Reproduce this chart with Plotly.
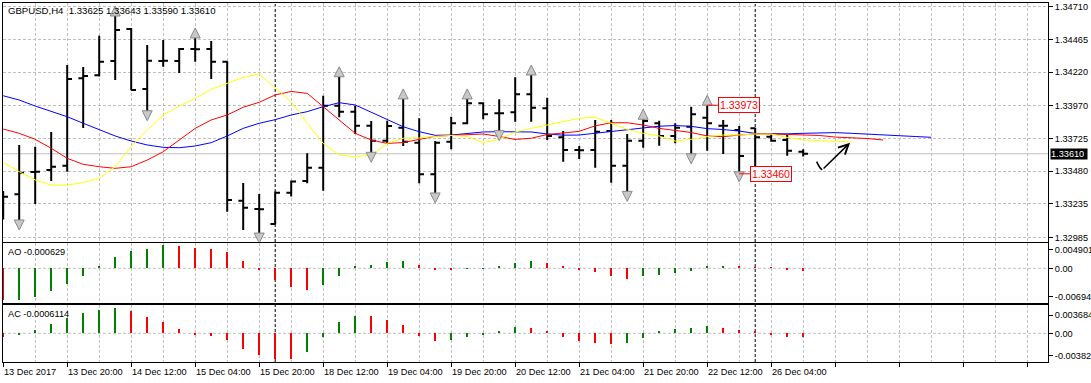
import plotly.graph_objects as go

# ---------------- data ----------------
time_labels = ["13 Dec 2017", "13 Dec 20:00", "14 Dec 12:00", "15 Dec 04:00", "15 Dec 20:00",
               "18 Dec 12:00", "19 Dec 04:00", "19 Dec 20:00", "20 Dec 12:00", "21 Dec 04:00",
               "21 Dec 20:00", "22 Dec 12:00", "26 Dec 04:00"]
label_bars = [0, 4, 8, 12, 16, 20, 24, 28, 32, 36, 40, 44, 48]

opens = [1.33309, 1.33307, 1.33474, 1.33489, 1.33521, 1.34174, 1.34197, 1.34304, 1.34543, 1.34094,
         1.34304, 1.34304, 1.34394, 1.34393, 1.34299, 1.33259, 1.33197, 1.33085, 1.33319, 1.33406,
         1.33506, 1.33970, 1.33925, 1.33820, 1.33708, 1.33805, 1.33693, 1.33456, 1.33700, 1.33838,
         1.33987, 1.33913, 1.33920, 1.34055, 1.33950, 1.33733, 1.33638, 1.33638, 1.33780, 1.33521,
         1.33708, 1.33838, 1.33743, 1.33812, 1.33880, 1.33820, 1.33788, 1.33800, 1.33738, 1.33713,
         1.33625]
highs = [1.33331, 1.33676, 1.33663, 1.33773, 1.34274, 1.34259, 1.34493, 1.34640, 1.34551, 1.34424,
         1.34461, 1.34401, 1.34476, 1.34453, 1.34302, 1.33391, 1.33309, 1.33328, 1.33410, 1.33613,
         1.34044, 1.34186, 1.33970, 1.33855, 1.33857, 1.34020, 1.33875, 1.33705, 1.33887, 1.34020,
         1.33995, 1.34017, 1.34182, 1.34199, 1.34029, 1.33780, 1.33668, 1.33863, 1.33863, 1.33758,
         1.33868, 1.33857, 1.33838, 1.33962, 1.33973, 1.33863, 1.33818, 1.33805, 1.33750, 1.33750,
         1.33643]
lows = [1.33118, 1.33100, 1.33234, 1.33406, 1.33476, 1.33803, 1.34188, 1.34162, 1.34085, 1.33917,
        1.34261, 1.34214, 1.34299, 1.34169, 1.33177, 1.33040, 1.33002, 1.33082, 1.33290, 1.33389,
        1.33334, 1.33883, 1.33758, 1.33606, 1.33688, 1.33668, 1.33389, 1.33302, 1.33643, 1.33830,
        1.33868, 1.33768, 1.33850, 1.33850, 1.33713, 1.33551, 1.33571, 1.33506, 1.33394, 1.33314,
        1.33655, 1.33670, 1.33688, 1.33595, 1.33633, 1.33608, 1.33460, 1.33501, 1.33700, 1.33595,
        1.33590]
closes = [1.33289, 1.33468, 1.33476, 1.33513, 1.34169, 1.34192, 1.34299, 1.34536, 1.34087, 1.34306,
          1.34305, 1.34394, 1.34392, 1.34299, 1.33264, 1.33207, 1.33195, 1.33319, 1.33403, 1.33506,
          1.33970, 1.33925, 1.33820, 1.33708, 1.33818, 1.33700, 1.33456, 1.33693, 1.33838, 1.33987,
          1.33905, 1.33913, 1.34055, 1.33955, 1.33743, 1.33638, 1.33637, 1.33775, 1.33521, 1.33708,
          1.33855, 1.33743, 1.33805, 1.33905, 1.33838, 1.33820, 1.33593, 1.33733, 1.33708, 1.33633,
          1.33610]

# Alligator lines (jaw = blue, teeth = red, lips = yellow), shifted past the last bar
jaw = [1.34044, 1.34012, 1.33967, 1.33925, 1.33887, 1.33838, 1.33788, 1.33743, 1.33705, 1.33676,
       1.33658, 1.33655, 1.33668, 1.33693, 1.33743, 1.33800, 1.33838, 1.33865, 1.33900, 1.33925,
       1.33962, 1.33992, 1.33975, 1.33922, 1.33866, 1.33812, 1.33775, 1.33748, 1.33750, 1.33762,
       1.33773, 1.33775, 1.33776, 1.33773, 1.33758, 1.33749, 1.33750, 1.33762, 1.33775, 1.33788,
       1.33803, 1.33816, 1.33821, 1.33815, 1.33798, 1.33791, 1.33780, 1.33762, 1.33758, 1.33759,
       1.33763, 1.33768, 1.33768, 1.33763, 1.33758, 1.33754, 1.33747, 1.33739, 1.33733]
teeth = [1.33795, 1.33763, 1.33718, 1.33651, 1.33576, 1.33531, 1.33513, 1.33501, 1.33513, 1.33563,
         1.33625, 1.33713, 1.33800, 1.33863, 1.33900, 1.33958, 1.33995, 1.34050, 1.34076, 1.34062,
         1.33962, 1.33863, 1.33763, 1.33713, 1.33687, 1.33694, 1.33720, 1.33741, 1.33747, 1.33750,
         1.33758, 1.33739, 1.33717, 1.33726, 1.33754, 1.33765, 1.33778, 1.33819, 1.33842, 1.33842,
         1.33825, 1.33800, 1.33784, 1.33769, 1.33743, 1.33738, 1.33750, 1.33758, 1.33758, 1.33754,
         1.33750, 1.33747, 1.33735, 1.33732, 1.33724, 1.33713]
lips = [1.33546, 1.33476, 1.33414, 1.33376, 1.33376, 1.33394, 1.33426, 1.33513, 1.33663, 1.33788,
        1.33900, 1.33967, 1.34025, 1.34092, 1.34137, 1.34182, 1.34207, 1.34106, 1.33999, 1.33838,
        1.33688, 1.33601, 1.33588, 1.33601, 1.33688, 1.33726, 1.33728, 1.33739, 1.33747, 1.33739,
        1.33694, 1.33717, 1.33773, 1.33800, 1.33825, 1.33850, 1.33875, 1.33883, 1.33838, 1.33793,
        1.33763, 1.33743, 1.33705, 1.33718, 1.33738, 1.33750, 1.33750, 1.33758, 1.33758, 1.33732,
        1.33713, 1.33708, 1.33703, 1.33698]

ao = [-0.006942, -0.00681, -0.00624, -0.00487, -0.00337, -0.00165, 0.00050, 0.00237, 0.00372, 0.00416,
      0.004901, 0.00466, 0.00437, 0.00416, 0.00351, 0.00158, -0.00050, -0.00250, -0.00416, -0.00466,
      -0.00358, -0.00179, 0.00036, 0.00072, 0.00136, 0.00158, 0.00072, -0.00036, -0.00040, -0.00014,
      -0.00010, 0.00050, 0.00115, 0.00158, 0.00115, 0.00050, -0.00036, -0.00093, -0.00179, -0.00230,
      -0.00179, -0.00143, -0.00108, -0.00057, 0.00036, 0.00045, 0.00040, 0.00015, 0.00005, -0.00035,
      -0.000629]
ac = [-0.00064, -0.00025, 0.00049, 0.00138, 0.00222, 0.00300, 0.00345, 0.003684, 0.00330, 0.00241,
      0.00167, 0.00064, -0.00025, -0.00040, -0.00099, -0.00232, -0.00321, -0.00378, -0.003827, -0.00277,
      -0.00055, 0.00167, 0.00259, 0.00256, 0.00197, 0.00123, -0.00040, -0.00114, -0.00099, -0.00055,
      -0.00025, 0.00034, 0.00093, 0.00078, 0.00034, -0.00055, -0.00114, -0.00144, -0.00158, -0.00155,
      -0.00070, 0.00015, 0.00064, 0.00078, 0.00108, 0.00078, 0.00049, 0.00015, -0.00025, -0.00055,
      -0.0006114]

fractal_up = [7, 12, 21, 25, 29, 33, 40, 44]
fractal_down = [1, 9, 16, 23, 27, 31, 39, 43, 46]
week_starts = [17, 47]
price_ticks = [1.34710, 1.34465, 1.34220, 1.33970, 1.33725, 1.33480, 1.33235, 1.32985]
ao_tick_text = ["0.004901", "0.00", "-0.006942"]
ac_tick_text = ["0.0036845", "0.00", "-0.003827"]
marked_high_bar, marked_high = 44, 1.33973
marked_low_bar, marked_low = 46, 1.33460
symbol_name = "GBPUSD,H4"
ao_label = "AO -0.000629"
ac_label = "AC -0.0006114"
# hand drawn arrow (bar index, price)
drawing_x = [50.84, 51.02, 51.18, 52.93]
drawing_y = [1.33551, 1.33511, 1.33489, 1.33693]

# ---------------- geometry / style ----------------
W, H = 1091, 383
ML, MR, MT, MB = 3, 43, 3, 21
PLOT_H = H - MT - MB
PX_PER_BAR = 16.0
X0 = -0.0125
X1 = X0 + (W - ML - MR) / PX_PER_BAR
FONT = "Liberation Sans, Arial, sans-serif"
FS = 9.2
GRID = "#C0C0C0"
GRID_DASH = "3px,2px"
GREEN = "#008000"
RED = "#FF0000"


def paper_y(px):
    return (H - MB - px) / PLOT_H


n = len(closes)
bars = list(range(n))

fig = go.Figure()

fig.add_trace(go.Ohlc(
    x=bars, open=opens, high=highs, low=lows, close=closes,
    increasing=dict(line=dict(color="black", width=2)),
    decreasing=dict(line=dict(color="black", width=2)),
    tickwidth=0.3, xaxis="x", yaxis="y", hoverinfo="skip", showlegend=False))

for vals, col in [(jaw, "#0000FF"), (teeth, "#FF0000"), (lips, "#FFFF00")]:
    fig.add_trace(go.Scatter(x=list(range(len(vals))), y=vals, mode="lines",
                             line=dict(color=col, width=1), xaxis="x", yaxis="y",
                             hoverinfo="skip", showlegend=False))

UP_OFF = 0.00075
DN_OFF = 0.00060
fig.add_trace(go.Scatter(
    x=fractal_up, y=[highs[i] + UP_OFF for i in fractal_up], mode="markers",
    marker=dict(symbol="arrow-up", size=10, color="#C8C8C8", line=dict(color="#8A8A8A", width=1)),
    xaxis="x", yaxis="y", hoverinfo="skip", showlegend=False))
fig.add_trace(go.Scatter(
    x=fractal_down, y=[lows[i] - DN_OFF for i in fractal_down], mode="markers",
    marker=dict(symbol="arrow-down", size=10, color="#C8C8C8", line=dict(color="#8A8A8A", width=1)),
    xaxis="x", yaxis="y", hoverinfo="skip", showlegend=False))

# hand drawn curve (tail part)
fig.add_trace(go.Scatter(x=drawing_x[:3], y=drawing_y[:3], mode="lines",
                         line=dict(color="black", width=1.5, shape="spline"),
                         xaxis="x", yaxis="y", hoverinfo="skip", showlegend=False))


def osc_colors(v):
    return [RED] + [GREEN if v[i] > v[i - 1] else RED for i in range(1, len(v))]


fig.add_trace(go.Bar(x=bars, y=ao, width=0.13, marker=dict(color=osc_colors(ao), line=dict(width=0)),
                     xaxis="x2", yaxis="y2", hoverinfo="skip", showlegend=False))
fig.add_trace(go.Bar(x=bars, y=ac, width=0.13, marker=dict(color=osc_colors(ac), line=dict(width=0)),
                     xaxis="x3", yaxis="y3", hoverinfo="skip", showlegend=False))

# ---------------- axes ----------------
main_dom = [paper_y(241.7), 1.0]
ao_dom = [paper_y(302.7), paper_y(243.3)]
ac_dom = [0.0, paper_y(305.3)]

S_MAIN = 0.0000748
p_top = 1.34710 + (6.7 - MT) * S_MAIN
p_bot = 1.34710 - (241.7 - 6.7) * S_MAIN
S_AO = 0.000215
S_AC = 0.000148

xcommon = dict(range=[X0, X1], tickmode="linear", tick0=0, dtick=4,
               showgrid=True, gridcolor=GRID, griddash=GRID_DASH, gridwidth=1,
               minor=dict(tickmode="linear", tick0=0, dtick=2, showgrid=True,
                          gridcolor=GRID, griddash=GRID_DASH, gridwidth=1),
               showticklabels=False, zeroline=False, showline=True, linecolor="black",
               linewidth=1, mirror=True, fixedrange=True, automargin=False)
ycommon = dict(side="right", ticks="outside", ticklen=4, tickcolor="black",
               tickfont=dict(family=FONT, size=FS, color="black"),
               showline=True, linecolor="black", linewidth=1, mirror=True,
               zeroline=False, fixedrange=True, automargin=False)

fig.update_layout(
    width=W, height=H, template="none",
    margin=dict(l=ML, r=MR, t=MT, b=MB, pad=0, autoexpand=False),
    paper_bgcolor="white", plot_bgcolor="white", showlegend=False,
    bargap=0,
    xaxis=dict(**xcommon, anchor="y", rangeslider=dict(visible=False), ticks=""),
    xaxis2=dict(**xcommon, anchor="y2", matches="x", ticks=""),
    xaxis3=dict(**xcommon, anchor="y3", matches="x", ticks="outside", ticklen=4, tickcolor="black"),
    yaxis=dict(**ycommon, domain=main_dom, range=[p_bot, p_top], tickvals=price_ticks,
               ticktext=[f"{v:.5f}" for v in price_ticks], showgrid=True, gridcolor=GRID,
               griddash=GRID_DASH, gridwidth=1),
    yaxis2=dict(**ycommon, domain=ao_dom, range=[-(302.7 - 268.3) * S_AO, (268.3 - 243.3) * S_AO],
                tickvals=[(268.3 - 249.3) * S_AO, 0, -(296.7 - 268.3) * S_AO],
                ticktext=ao_tick_text, showgrid=False),
    yaxis3=dict(**ycommon, domain=ac_dom, range=[-(362 - 333.3) * S_AC, (333.3 - 305.3) * S_AC],
                tickvals=[(333.3 - 315) * S_AC, 0, -(355.7 - 333.3) * S_AC],
                ticktext=ac_tick_text, showgrid=False),
)

shapes = []
for yr in ["y2", "y3"]:
    shapes.append(dict(type="line", xref="x domain", yref=yr, x0=0, x1=1, y0=0, y1=0,
                       line=dict(color=GRID, width=1, dash=GRID_DASH), layer="below"))
shapes.append(dict(type="line", xref="x domain", yref="y", x0=0, x1=1, y0=closes[-1], y1=closes[-1],
                   line=dict(color=GRID, width=1), layer="below"))
for b in week_starts:
    shapes.append(dict(type="line", xref="x", yref="paper", x0=b, x1=b, y0=0, y1=1,
                       line=dict(color="black", width=1, dash="3px,2px"), layer="below"))
fig.update_layout(shapes=shapes)

txt = dict(family=FONT, size=FS, color="black")
ann = []
ann.append(dict(xref="paper", yref="paper", x=0, y=paper_y(10), xanchor="left", yanchor="middle",
                xshift=3, showarrow=False, font=dict(family=FONT, size=9.6, color="black"),
                text=f"{symbol_name}\u00a0\u00a0{opens[-1]:.5f} {highs[-1]:.5f} {lows[-1]:.5f} {closes[-1]:.5f}"))
ann.append(dict(xref="paper", yref="paper", x=0, y=paper_y(251.7), xanchor="left", yanchor="middle",
                xshift=3, showarrow=False, font=txt, text=ao_label))
ann.append(dict(xref="paper", yref="paper", x=0, y=paper_y(314), xanchor="left", yanchor="middle",
                xshift=3, showarrow=False, font=txt, text=ac_label))
for b, t in zip(label_bars, time_labels):
    ann.append(dict(xref="x3", yref="paper", x=b, y=paper_y(371.7), xanchor="left", yanchor="middle",
                    xshift=-1, showarrow=False, font=txt, text=t))
ann.append(dict(xref="paper", yref="y", x=1, y=closes[-1], xanchor="left", yanchor="middle",
                xshift=2, showarrow=False, bgcolor="black", borderpad=0,
                font=dict(family=FONT, size=FS, color="white"), text=f"{closes[-1]:.5f}\u00a0"))
for b, v in [(marked_high_bar, marked_high), (marked_low_bar, marked_low)]:
    ann.append(dict(xref="x", yref="y", x=b, y=v, text=f"{v:.5f}", showarrow=True, arrowhead=0,
                    arrowcolor=RED, arrowwidth=1, ax=31.5, ay=0, standoff=0,
                    font=dict(family=FONT, size=10.5, color=RED), bordercolor=RED, borderwidth=1,
                    borderpad=1, bgcolor="white"))
ann.append(dict(xref="x", yref="y", axref="x", ayref="y", x=drawing_x[3], y=drawing_y[3],
                ax=drawing_x[2], ay=drawing_y[2], text="", showarrow=True, arrowhead=5,
                arrowsize=1.3, arrowwidth=1.5, arrowcolor="black", standoff=0))
fig.update_layout(annotations=ann)

fig.write_html("out.html", config={"displayModeBar": False},
               post_script="document.body.style.margin='0';document.body.style.overflow='hidden';")
